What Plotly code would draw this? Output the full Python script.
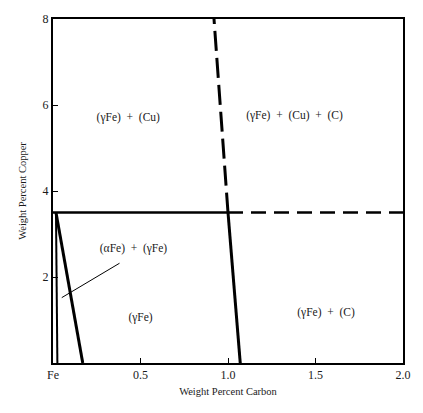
import plotly.graph_objects as go

# Phase boundaries, Fe-Cu-C section (weight % carbon vs weight % copper)
cu_solvus_solid_x = [0.0, 1.0]
cu_solvus_solid_y = [3.5, 3.5]
cu_solvus_dash_x = [1.0, 2.0]
cu_solvus_dash_y = [3.5, 3.5]

c_solvus_x = [1.0, 1.07]
c_solvus_y = [3.5, 0.0]
c_solvus_dash_x = [1.0, 0.92]
c_solvus_dash_y = [3.5, 8.0]

alpha_limit_x = [0.017, 0.025]
alpha_limit_y = [3.5, 0.0]
gamma_limit_x = [0.017, 0.17]
gamma_limit_y = [3.5, 0.0]

leader_x = [0.38, 0.05]
leader_y = [2.32, 1.52]

region_labels = ["(γFe)  +  (Cu)", "(γFe)  +  (Cu)  +  (C)", "(αFe)  +  (γFe)", "(γFe)", "(γFe)  +  (C)"]
region_x = [0.43, 1.38, 0.46, 0.5, 1.56]
region_y = [5.7, 5.75, 2.64, 1.05, 1.15]

x_ticks = [0, 0.5, 1.0, 1.5, 2.0]
x_tick_text = ["Fe", "0.5", "1.0", "1.5", "2.0"]
y_ticks = [2, 4, 6, 8]
y_tick_text = ["2", "4", "6", "8"]

FONT = "Liberation Serif"
INK = "#1a1a1a"

fig = go.Figure()

def seg(x, y, width, dash="solid"):
    fig.add_trace(go.Scatter(x=x, y=y, mode="lines",
                             line=dict(color="black", width=width, dash=dash),
                             showlegend=False, hoverinfo="skip"))

seg(cu_solvus_solid_x, cu_solvus_solid_y, 2.5)
seg(cu_solvus_dash_x, cu_solvus_dash_y, 2.5, dash="15px,8px")
seg(c_solvus_x, c_solvus_y, 3)
seg(c_solvus_dash_x, c_solvus_dash_y, 3, dash="20px,7px")
seg(alpha_limit_x, alpha_limit_y, 2)
seg(gamma_limit_x, gamma_limit_y, 3)
seg(leader_x, leader_y, 1)

fig.add_trace(go.Scatter(x=region_x, y=region_y, mode="text", text=region_labels,
                         textfont=dict(family=FONT, size=11.5, color=INK),
                         showlegend=False, hoverinfo="skip"))

axis_common = dict(showgrid=False, zeroline=False, showline=True, linecolor="black",
                   linewidth=2, mirror=True, ticks="inside", ticklen=5,
                   tickcolor="black", tickfont=dict(family=FONT, size=12, color=INK))

fig.update_xaxes(range=[0, 2], tickvals=x_ticks, ticktext=x_tick_text,
                 title=dict(text="Weight Percent Carbon", font=dict(family=FONT, size=10.5, color=INK),
                            standoff=6),
                 **axis_common)
fig.update_yaxes(range=[0, 8], tickvals=y_ticks, ticktext=y_tick_text,
                 title=dict(text="Weight Percent Copper", font=dict(family=FONT, size=10.5, color=INK),
                            standoff=14),
                 **axis_common)

fig.update_layout(width=423, height=413, margin=dict(l=53, r=14, t=14, b=50),
                  plot_bgcolor="white", paper_bgcolor="white")

fig.write_html("out.html")
